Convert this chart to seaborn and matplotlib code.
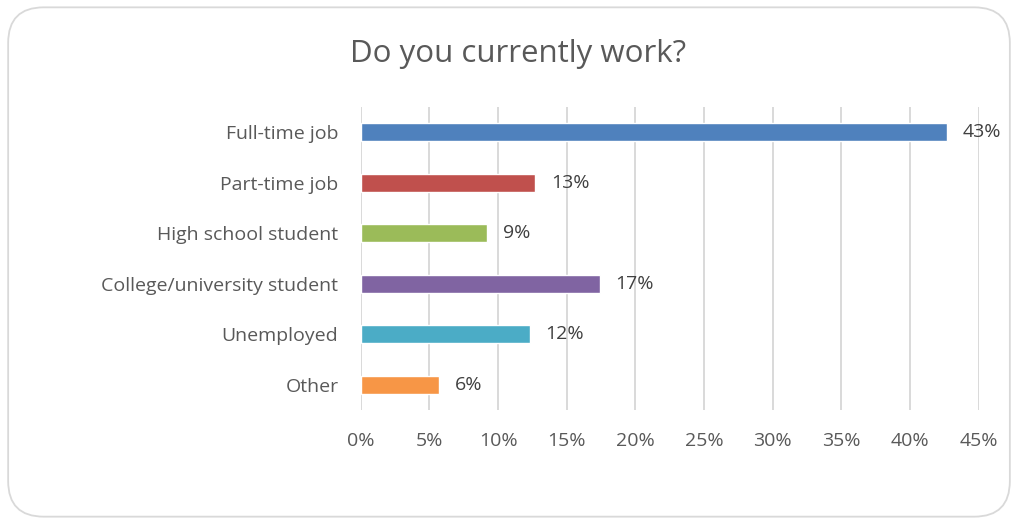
import matplotlib
matplotlib.use("Agg")
import matplotlib.pyplot as plt
from matplotlib.patches import FancyBboxPatch
from matplotlib.ticker import FuncFormatter, MultipleLocator
import seaborn as sns
import pandas as pd

categories = ["Full-time job", "Part-time job", "High school student",
              "College/university student", "Unemployed", "Other"]
shares = [0.427, 0.127, 0.092, 0.174, 0.123, 0.057]
colors = ["#4F81BD", "#C0504D", "#9BBB59", "#8064A2", "#4BACC6", "#F79646"]
title = "Do you currently work?"

sns.set_theme(style="white")
plt.rcParams["font.family"] = ["Open Sans", "DejaVu Sans"]

df = pd.DataFrame({"category": categories, "share": shares})

fig = plt.figure(figsize=(10.18, 5.24), dpi=100)
ax = fig.add_axes([0.3543, 0.2176, 0.9614 - 0.3543, 0.7958 - 0.2176])

# rounded chart-area frame
frame = FancyBboxPatch((0.008, 0.014), 0.984, 0.972,
                       boxstyle="round,pad=0,rounding_size=0.035",
                       transform=fig.transFigure, facecolor="white",
                       edgecolor="#d9d9d9", linewidth=1.3, zorder=-10,
                       mutation_aspect=1018 / 524)
fig.patches.append(frame)

sns.barplot(data=df, y="category", x="share", hue="category",
            palette=colors, order=categories, hue_order=categories,
            width=0.36, legend=False, ax=ax, saturation=1, zorder=3)

ax.set_xlim(0, 0.45)
ax.set_ylim(len(categories) - 0.5, -0.5)
ax.xaxis.set_major_locator(MultipleLocator(0.05))
ax.xaxis.set_major_formatter(FuncFormatter(lambda v, _: f"{v * 100:.0f}%"))
ax.grid(axis="x", color="#d9d9d9", linewidth=1.4, zorder=0)
ax.set_axisbelow(True)
for s in ax.spines.values():
    s.set_visible(False)
ax.set_xlabel("")
ax.set_ylabel("")
ax.tick_params(axis="x", length=0, pad=16, labelsize=14, labelcolor="#595959")
ax.tick_params(axis="y", length=0, pad=16, labelsize=14, labelcolor="#595959")

for i, v in enumerate(shares):
    ax.annotate(f"{round(v * 100):.0f}%", xy=(v, i), xytext=(11.5, 0),
                textcoords="offset points", ha="left", va="center",
                fontsize=14, color="#404040")

fig.text(0.509, 0.897, title, ha="center", va="center", fontsize=22.5,
         color="#595959")

fig.savefig("out.png", dpi=100)
